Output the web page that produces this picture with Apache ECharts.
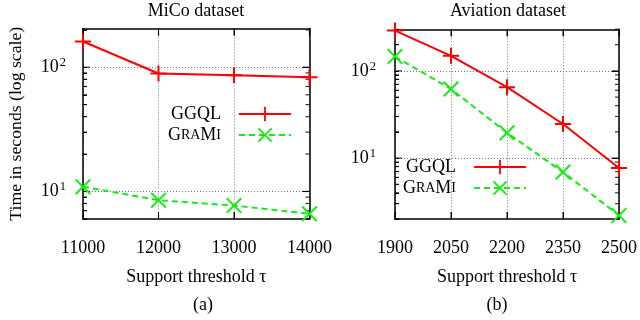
<!DOCTYPE html>
<html>
<head>
<meta charset="utf-8">
<script src="https://cdn.jsdelivr.net/npm/echarts@6/dist/echarts.min.js"></script>
<style>
html, body { margin: 0; padding: 0; background: #fff; }
#chart { width: 640px; height: 320px; }
</style>
</head>
<body>
<div id="chart"></div>
<script>
// MiCo dataset
var miCoThresholds = ['11000', '12000', '13000', '14000'];
var miCoGGQL = [161, 89, 86, 83];
var miCoGraMi = [10.9, 8.5, 7.7, 6.6];
// Aviation dataset
var aviationThresholds = ['1900', '2050', '2200', '2350', '2500'];
var aviationGGQL = [290, 149, 65, 24.6, 7.7];
var aviationGraMi = [146, 62, 19.5, 6.9, 2.2];
// log axis ticks
var majorTicks = [10, 100];
var minorTicks = [2, 3, 4, 5, 6, 7, 8, 9, 20, 30, 40, 50, 60, 70, 80, 90, 200, 300];

var FONT = "'Liberation Serif', 'DejaVu Serif', serif";
var FS = 18;
var RED = '#ff0000';
var GREEN = '#11ee11';
var PLUS = 'path://M7,0H9V7H16V9H9V16H7V9H0V7H7Z';
var CROSS = 'path://M0,1.4L1.4,0L8,6.6L14.6,0L16,1.4L9.4,8L16,14.6L14.6,16L8,9.4L1.4,16L0,14.6L6.6,8Z';

var chart = echarts.init(document.getElementById('chart'));

function xAxes(gridIndex, cats) {
    return [{
        type: 'category', gridIndex: gridIndex, data: cats, boundaryGap: false, position: 'bottom',
        axisLine: { show: true, lineStyle: { color: '#000', width: 1.5 } },
        axisTick: { show: true, inside: true, length: 7, lineStyle: { color: '#000' } },
        axisLabel: { color: '#000', fontFamily: FONT, fontSize: FS, margin: 20 },
        splitLine: { show: true, lineStyle: { color: '#777', type: [1, 2] } },
        name: 'Support threshold \u03c4', nameLocation: 'middle', nameGap: 49,
        nameTextStyle: { color: '#000', fontFamily: FONT, fontSize: FS }
    }, {
        type: 'category', gridIndex: gridIndex, data: cats, boundaryGap: false, position: 'top',
        axisLine: { show: true, lineStyle: { color: '#000', width: 1.5 } },
        axisTick: { show: true, inside: true, length: 7, lineStyle: { color: '#000' } },
        axisLabel: { show: false }, splitLine: { show: false }
    }];
}

// left axis: labels; right axis: major ticks + dotted grid lines
function yAxes(gridIndex, min, max, margin) {
    return [{
        type: 'log', gridIndex: gridIndex, min: min, max: max, position: 'left',
        axisLine: { show: true, lineStyle: { color: '#000', width: 1.5 } },
        axisTick: { show: true, inside: true, length: 4, customValues: majorTicks.concat(minorTicks), lineStyle: { color: '#000' } },
        axisLabel: {
            show: true, customValues: majorTicks, margin: margin, color: '#000', fontFamily: FONT, fontSize: FS,
            formatter: function (v) { return '10{sup|' + Math.round(Math.log10(v)) + '}'; },
            rich: { sup: { fontSize: 12.5, verticalAlign: 'top', padding: [0, 0, 9, 1], fontFamily: FONT, color: '#000' } }
        },
        splitLine: { show: false }
    }, {
        type: 'log', gridIndex: gridIndex, min: min, max: max, position: 'right',
        axisLine: { show: true, lineStyle: { color: '#000', width: 1.5 } },
        axisTick: { show: true, inside: true, length: 7, customValues: majorTicks, lineStyle: { color: '#000' } },
        axisLabel: { show: false },
        splitLine: { show: true, lineStyle: { color: '#777', type: [1, 2] } }
    }];
}

// tick marks along the box, placed through the axes' own scales
function tickSeries(gridIndex, cats, min, max) {
    var items = [];
    var first = cats[0], last = cats[cats.length - 1];
    function add(values, len) {
        values.forEach(function (v) {
            if (v < min || v > max) return;
            items.push({ value: [first, v], symbolSize: [len, 1.2], symbolOffset: [len / 2, 0] });
            items.push({ value: [last, v], symbolSize: [len, 1.2], symbolOffset: [-len / 2, 0] });
        });
    }
    add(minorTicks, 4);
    add(majorTicks, 7);
    cats.forEach(function (c) {
        items.push({ value: [c, min], symbolSize: [1.2, 7], symbolOffset: [0, -3.5] });
        items.push({ value: [c, max], symbolSize: [1.2, 7], symbolOffset: [0, 3.5] });
    });
    return {
        name: 'ticks', type: 'scatter', data: items, symbol: 'rect', silent: true,
        xAxisIndex: gridIndex * 2, yAxisIndex: gridIndex * 2,
        itemStyle: { color: '#000' }, clip: false, animation: false, z: 1
    };
}

function lineSeries(name, gridIndex, data, solid) {
    return {
        name: name, type: 'line', data: data,
        xAxisIndex: gridIndex * 2, yAxisIndex: gridIndex * 2,
        symbol: solid ? PLUS : CROSS, symbolSize: 16, showSymbol: true, clip: false,
        itemStyle: { color: solid ? RED : GREEN },
        lineStyle: { color: solid ? RED : GREEN, width: 2, type: solid ? 'solid' : [6, 4] },
        emphasis: { disabled: true }, animation: false, z: 3
    };
}

function legend(right, top) {
    return {
        data: ['GGQL', 'GraMi'], orient: 'vertical', align: 'right', right: right, top: top,
        padding: 0, itemWidth: 52, itemHeight: 18, itemGap: 3, selectedMode: false,
        textStyle: {
            color: '#000', fontFamily: FONT, fontSize: FS, padding: [0, 13, 0, 0],
            rich: { sc: { fontSize: 14, fontFamily: FONT, color: '#000' } }
        },
        formatter: function (name) { return name === 'GraMi' ? 'G{sc|RA}M{sc|I}' : name; }
    };
}

var yAll = yAxes(0, 6, 205, 17).concat(yAxes(1, 2, 300, 19));
yAll[0].name = 'Time in seconds (log scale)';
yAll[0].nameLocation = 'middle';
yAll[0].nameGap = 58;
yAll[0].nameTextStyle = { color: '#000', fontFamily: FONT, fontSize: 17.7 };

var titleStyle = { color: '#000', fontFamily: FONT, fontSize: FS, fontWeight: 'normal' };

var option = {
    backgroundColor: '#fff',
    animation: false,
    title: [
        { text: 'MiCo dataset', left: 196, top: 2, textAlign: 'center', padding: 0, textStyle: titleStyle },
        { text: 'Aviation dataset', left: 508, top: 2, textAlign: 'center', padding: 0, textStyle: titleStyle },
        { text: '(a)', left: 203, top: 296, textAlign: 'center', padding: 0, textStyle: titleStyle },
        { text: '(b)', left: 497, top: 296, textAlign: 'center', padding: 0, textStyle: titleStyle }
    ],
    grid: [
        { left: 83, right: 330.5, top: 28.5, bottom: 101 },
        { left: 395, right: 19.3, top: 29.3, bottom: 101 }
    ],
    legend: [legend(348, 105), legend(113, 158)],
    xAxis: xAxes(0, miCoThresholds).concat(xAxes(1, aviationThresholds)),
    yAxis: yAll,
    series: [
        tickSeries(0, miCoThresholds, 6, 205),
        tickSeries(1, aviationThresholds, 2, 300),
        lineSeries('GGQL', 0, miCoGGQL, true),
        lineSeries('GraMi', 0, miCoGraMi, false),
        lineSeries('GGQL', 1, aviationGGQL, true),
        lineSeries('GraMi', 1, aviationGraMi, false)
    ]
};
chart.setOption(option);
</script>
</body>
</html>
